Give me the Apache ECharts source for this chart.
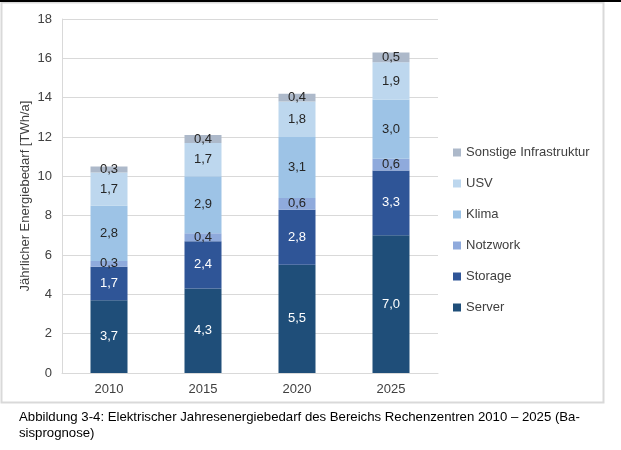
<!DOCTYPE html>
<html>
<head>
<meta charset="utf-8">
<script src="https://cdn.jsdelivr.net/npm/echarts@6/dist/echarts.min.js"></script>
<style>
  html, body { margin: 0; padding: 0; background: #fff; }
  #chart { width: 621px; height: 450px; }
</style>
</head>
<body>
<div id="chart"></div>
<script>
// Jahresenergiebedarf Rechenzentren, Werte in TWh/a
const years = ['2010', '2015', '2020', '2025'];
const server = [3.7, 4.3, 5.5, 7.0];
const storage = [1.7, 2.4, 2.8, 3.3];
const netzwerk = [0.3, 0.4, 0.6, 0.6];
const klima = [2.8, 2.9, 3.1, 3.0];
const usv = [1.7, 1.7, 1.8, 1.9];
const sonstige = [0.3, 0.4, 0.4, 0.5];
const yTicks = [0, 2, 4, 6, 8, 10, 12, 14, 16, 18];

const font = '"Liberation Sans", Arial, sans-serif';

function bar(name, data, color, labelColor) {
  return {
    name: name,
    type: 'bar',
    stack: 'total',
    barWidth: 37,
    data: data,
    itemStyle: { color: color },
    label: {
      show: true,
      position: 'inside',
      color: labelColor,
      fontFamily: font,
      fontSize: 13,
      formatter: p => p.value.toFixed(1).replace('.', ',')
    }
  };
}

const myChart = echarts.init(document.getElementById('chart'));
myChart.setOption({
  animation: false,
  textStyle: { fontFamily: font },
  grid: { left: 62, top: 19, right: 183, bottom: 77 },
  legend: {
    orient: 'vertical',
    left: 448,
    top: 141,
    itemWidth: 8,
    itemHeight: 8,
    itemGap: 18,
    icon: 'rect',
    textStyle: { color: '#404040', fontSize: 13, fontFamily: font },
    data: ['Sonstige Infrastruktur', 'USV', 'Klima', 'Notzwork', 'Storage', 'Server']
  },
  xAxis: {
    type: 'category',
    data: years,
    axisLine: { lineStyle: { color: '#d9d9d9' } },
    axisTick: { show: false },
    axisLabel: { color: '#404040', fontSize: 13, margin: 10 }
  },
  yAxis: {
    type: 'value',
    min: yTicks[0],
    max: yTicks[yTicks.length - 1],
    interval: 2,
    name: 'Jährlicher Energiebedarf [TWh/a]',
    nameLocation: 'middle',
    nameGap: 30,
    nameMoveOverlap: false,
    nameTextStyle: { color: '#404040', fontSize: 13 },
    axisLine: { show: true, lineStyle: { color: '#d9d9d9' } },
    axisTick: { show: false },
    axisLabel: { color: '#404040', fontSize: 13, margin: 10 },
    splitLine: { lineStyle: { color: '#d9d9d9' } }
  },
  series: [
    bar('Server', server, '#1f4e79', '#ffffff'),
    bar('Storage', storage, '#2f5597', '#ffffff'),
    bar('Notzwork', netzwerk, '#8faadc', '#262626'),
    bar('Klima', klima, '#9dc3e6', '#262626'),
    bar('USV', usv, '#bdd7ee', '#262626'),
    bar('Sonstige Infrastruktur', sonstige, '#adb9ca', '#262626')
  ],
  graphic: [
    { type: 'rect', z: -1, shape: { x: 1.5, y: 2.5, width: 602, height: 400 },
      style: { fill: 'none', stroke: '#d9d9d9', lineWidth: 2 } },
    { type: 'rect', shape: { x: 0, y: 0, width: 621, height: 2 }, style: { fill: '#000' } },
    { type: 'text', left: 19, top: 409,
      style: { text: 'Abbildung 3-4: Elektrischer Jahresenergiebedarf des Bereichs Rechenzentren 2010 – 2025 (Ba-\nsisprognose)',
        fill: '#000', font: '13.2px ' + font, lineHeight: 16 } }
  ]
});
</script>
</body>
</html>
